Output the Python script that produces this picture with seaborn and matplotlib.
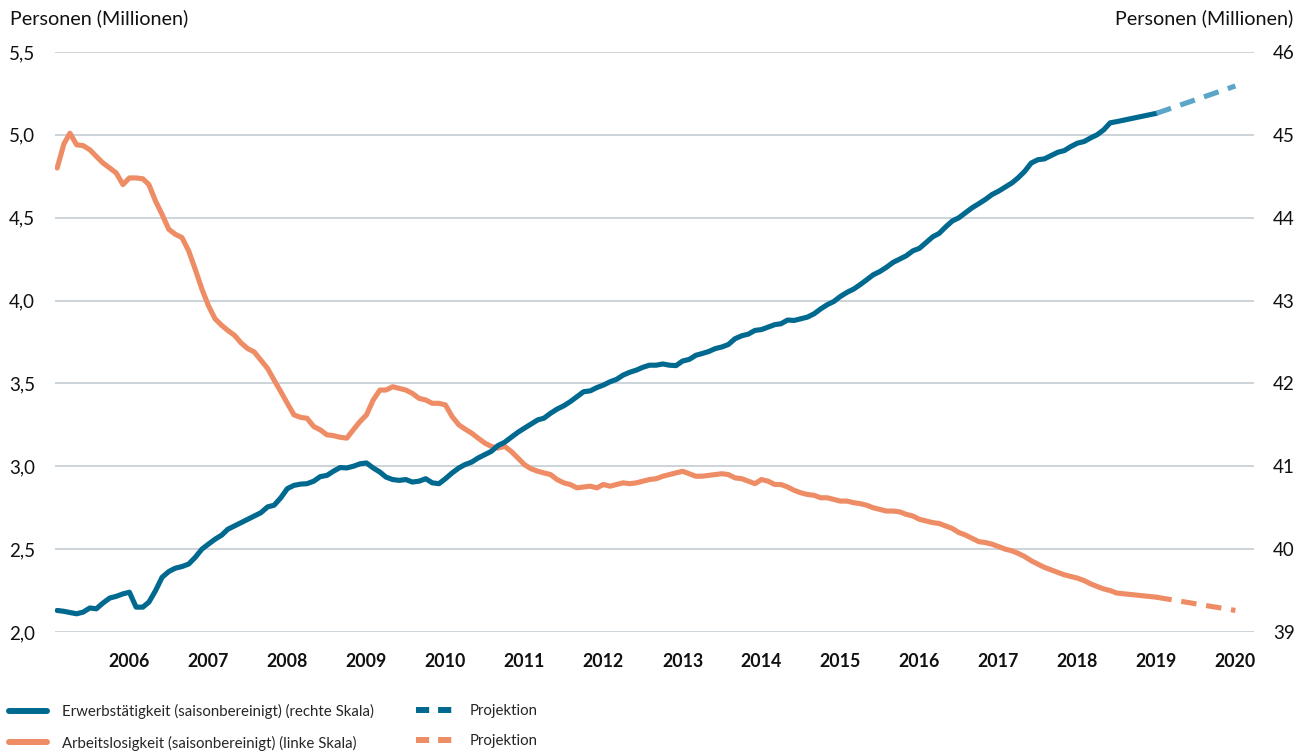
import numpy as np
import pandas as pd
import seaborn as sns
import matplotlib.pyplot as plt
from matplotlib.lines import Line2D
from matplotlib.ticker import FuncFormatter

# Monatswerte ab Januar 2005, Millionen Personen
erwerb = [
    39.26, 39.25, 39.235, 39.22, 39.24, 39.29, 39.28, 39.35, 39.41, 39.43, 39.46, 39.48,
    39.30, 39.30, 39.36, 39.50, 39.66, 39.73, 39.77, 39.79, 39.82, 39.90, 40.00, 40.06,
    40.12, 40.17, 40.24, 40.28, 40.32, 40.36, 40.40, 40.44, 40.51, 40.53, 40.62, 40.73,
    40.77, 40.785, 40.79, 40.82, 40.875, 40.89, 40.94, 40.985, 40.98, 41.00, 41.03, 41.04,
    40.98, 40.93, 40.87, 40.84, 40.83, 40.84, 40.81, 40.82, 40.85, 40.80, 40.79, 40.85,
    40.92, 40.98, 41.02, 41.05, 41.10, 41.14, 41.18, 41.25, 41.29, 41.35, 41.41, 41.46,
    41.51, 41.56, 41.58, 41.64, 41.69, 41.73, 41.78, 41.84, 41.90, 41.91, 41.95, 41.98,
    42.02, 42.05, 42.10, 42.135, 42.16, 42.195, 42.22, 42.22, 42.235, 42.22, 42.215, 42.27,
    42.29, 42.34, 42.36, 42.385, 42.42, 42.44, 42.47, 42.54, 42.575, 42.595, 42.64, 42.65,
    42.68, 42.71, 42.72, 42.765, 42.76, 42.78, 42.80, 42.84, 42.90, 42.95, 42.99, 43.05,
    43.10, 43.14, 43.19, 43.25, 43.31, 43.35, 43.40, 43.46, 43.50, 43.54, 43.60, 43.63,
    43.70, 43.77, 43.81, 43.89, 43.96, 44.00, 44.06, 44.12, 44.17, 44.22, 44.28, 44.32,
    44.37, 44.42, 44.48, 44.56, 44.66, 44.70, 44.71, 44.75, 44.79, 44.81, 44.86, 44.90,
    44.92, 44.965, 45.00, 45.06, 45.145, 45.16,
]
arbeitslos = [
    4.80, 4.945, 5.01, 4.94, 4.935, 4.91, 4.87, 4.83, 4.80, 4.77, 4.70, 4.74,
    4.74, 4.735, 4.70, 4.60, 4.52, 4.43, 4.40, 4.38, 4.30, 4.19, 4.07, 3.97,
    3.89, 3.85, 3.82, 3.79, 3.745, 3.71, 3.69, 3.64, 3.59, 3.52, 3.45, 3.38,
    3.31, 3.295, 3.29, 3.24, 3.22, 3.19, 3.185, 3.175, 3.17, 3.22, 3.27, 3.31,
    3.40, 3.46, 3.46, 3.48, 3.47, 3.46, 3.44, 3.41, 3.40, 3.38, 3.38, 3.37,
    3.30, 3.25, 3.225, 3.20, 3.17, 3.14, 3.12, 3.11, 3.12, 3.09, 3.05, 3.01,
    2.985, 2.97, 2.96, 2.95, 2.92, 2.90, 2.89, 2.87, 2.875, 2.88, 2.87, 2.89,
    2.88, 2.89, 2.90, 2.895, 2.90, 2.91, 2.92, 2.925, 2.94, 2.95, 2.96, 2.97,
    2.955, 2.94, 2.94, 2.945, 2.95, 2.955, 2.95, 2.93, 2.925, 2.91, 2.895, 2.92,
    2.91, 2.89, 2.89, 2.875, 2.855, 2.84, 2.83, 2.825, 2.81, 2.81, 2.80, 2.79,
    2.79, 2.78, 2.775, 2.765, 2.75, 2.74, 2.73, 2.73, 2.725, 2.71, 2.70, 2.68,
    2.67, 2.66, 2.655, 2.64, 2.625, 2.60, 2.585, 2.565, 2.545, 2.54, 2.53, 2.515,
    2.50, 2.49, 2.475, 2.455, 2.43, 2.41, 2.39, 2.375, 2.36, 2.345, 2.335, 2.325,
    2.31, 2.29, 2.275, 2.26, 2.25, 2.235,
]
# letzter Ist-Wert und Projektion
stand_datum = '2018-12-01'
erwerb_stand = 45.26
arbeitslos_stand = 2.21
proj_daten = ['2018-12-01', '2019-12-01']
erwerb_proj = [45.26, 45.59]
arbeitslos_proj = [2.21, 2.13]
jahre = list(range(2006, 2021))

BLUE = '#00698f'
BLUE_PROJ = '#5ba5c8'
ORANGE = '#ee8d65'
GRID = '#c9d1d7'
INK = '#111111'

monate = list(pd.date_range('2005-01-01', periods=len(erwerb), freq='MS'))
ist = pd.DataFrame({
    'Datum': monate + [pd.Timestamp(stand_datum)],
    'Erwerb': erwerb + [erwerb_stand],
    'Arbeitslos': arbeitslos + [arbeitslos_stand],
})
proj = pd.DataFrame({
    'Datum': pd.to_datetime(proj_daten),
    'Erwerb': erwerb_proj,
    'Arbeitslos': arbeitslos_proj,
})

sns.set_theme(style='white')
plt.rcParams['font.family'] = ['Lato', 'DejaVu Sans']

fig = plt.figure(figsize=(13.06, 7.54), dpi=100)
ax = fig.add_axes([55 / 1306, 1 - 632 / 754, (1254 - 55) / 1306, (632 - 52) / 754])
ax2 = ax.twinx()

lw = 3.7
dash = (0, (3.0, 1.9))
sns.lineplot(data=ist, x='Datum', y='Arbeitslos', ax=ax, color=ORANGE, lw=lw)
sns.lineplot(data=proj, x='Datum', y='Arbeitslos', ax=ax, color=ORANGE, lw=lw, linestyle=dash)
sns.lineplot(data=ist, x='Datum', y='Erwerb', ax=ax2, color=BLUE, lw=lw)
sns.lineplot(data=proj, x='Datum', y='Erwerb', ax=ax2, color=BLUE_PROJ, lw=lw, linestyle=dash)

ax.set_ylim(2, 5.5)
ax2.set_ylim(39, 46)
ax.set_yticks(np.arange(2, 5.51, 0.5))
ax2.set_yticks(range(39, 47))
ax.yaxis.set_major_formatter(FuncFormatter(lambda v, p: f'{v:.1f}'.replace('.', ',')))
ax.grid(axis='y', color=GRID, lw=1.3)
ax.grid(axis='x', visible=False)
ax2.grid(False)

ax.set_xlim(pd.Timestamp('2004-12-22'), pd.Timestamp('2020-02-25'))
ax.set_xticks([pd.Timestamp(f'{j - 1}-12-01') for j in jahre])
ax.set_xticklabels([str(j) for j in jahre], fontweight='bold')
ax.tick_params(axis='x', length=0, pad=15, labelsize=12.8, labelcolor=INK)
ax.tick_params(axis='y', length=0, pad=14.4, labelsize=13.5, labelcolor=INK)
ax2.tick_params(axis='y', length=0, pad=13.7, labelsize=13.5, labelcolor=INK)
for a in (ax, ax2):
    a.set_xlabel('')
    a.set_ylabel('')
    for s in a.spines.values():
        s.set_visible(False)

fig.text(10 / 1306, 1 - 18 / 754, 'Personen (Millionen)', ha='left', va='center',
         fontsize=14.2, color=INK)
fig.text(1293 / 1306, 1 - 18 / 754, 'Personen (Millionen)', ha='right', va='center',
         fontsize=14.2, color=INK)

# Legende unter der Grafik
dash_leg = (0, (2.2, 1.5))
solid = [Line2D([], [], color=BLUE, lw=4.3), Line2D([], [], color=ORANGE, lw=4.3)]
dashed = [Line2D([], [], color=BLUE, lw=4.3, linestyle=dash_leg),
          Line2D([], [], color=ORANGE, lw=4.3, linestyle=dash_leg)]
leg_kw = dict(loc='upper left', frameon=False, fontsize=10.8, handlelength=2.55,
              handletextpad=1.0, labelspacing=1.1, borderpad=0, borderaxespad=0)
fig.legend(solid, ['Erwerbstätigkeit (saisonbereinigt) (rechte Skala)',
                   'Arbeitslosigkeit (saisonbereinigt) (linke Skala)'],
           bbox_to_anchor=(9 / 1306, 1 - 704 / 754), **leg_kw)
fig.legend(dashed, ['Projektion', 'Projektion'],
           bbox_to_anchor=(416 / 1306, 1 - 704 / 754), **leg_kw)

fig.savefig('out.png', dpi=100)
